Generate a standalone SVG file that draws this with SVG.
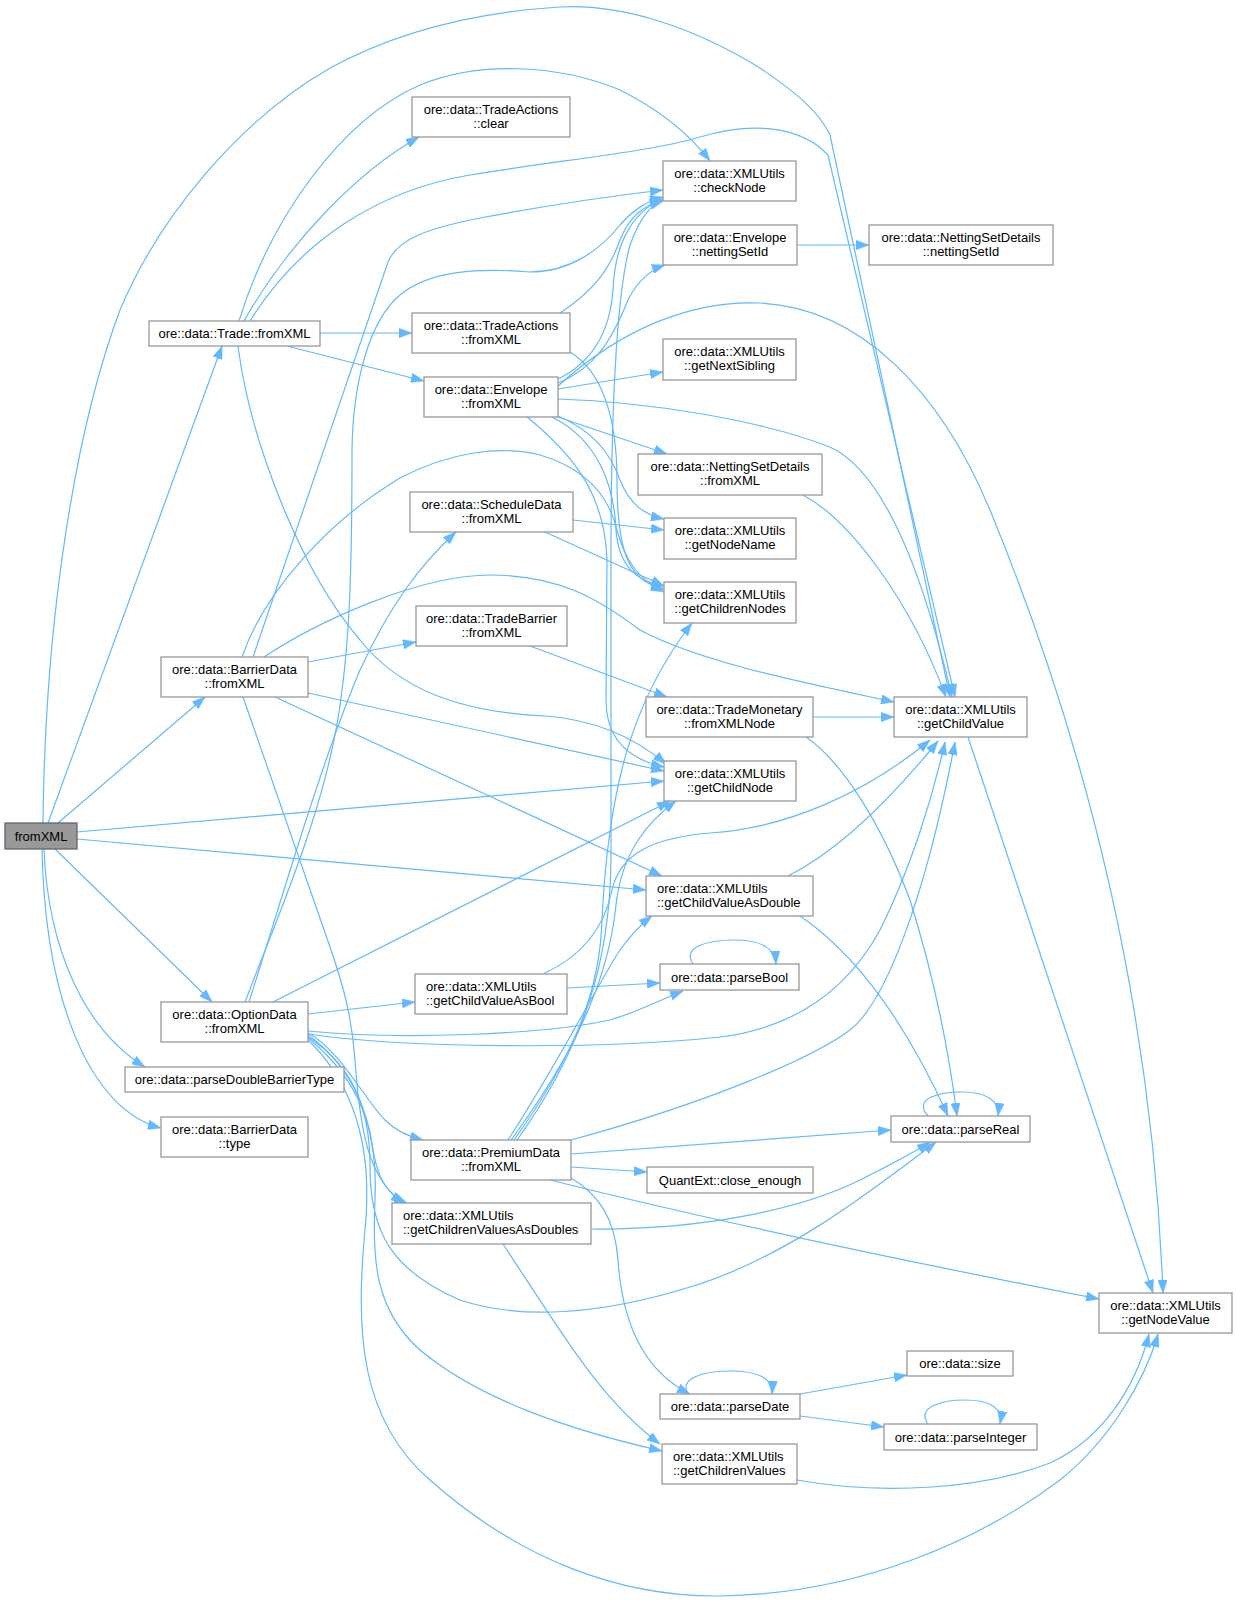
<svg xmlns="http://www.w3.org/2000/svg" width="1237" height="1607" viewBox="0 0 1237 1607">
<defs>
<style>
.n rect{fill:#ffffff;stroke:#999999;stroke-width:1.3}
.root rect{fill:#999999;stroke:#666666;stroke-width:1.3}
text{font-family:"Liberation Sans",Arial,Helvetica,sans-serif;font-size:13px;fill:#000000}
.c{text-anchor:middle}
#edges path{fill:none;stroke:#63b8ff;stroke-width:1.2;marker-end:url(#ah)}
</style>
<marker id="ah" viewBox="0 0 13 9.5" refX="13" refY="4.75" markerWidth="13" markerHeight="9.5" markerUnits="userSpaceOnUse" orient="auto">
<path d="M0,0 L13,4.75 L0,9.5 Z" fill="#63b8ff" stroke="#63b8ff" stroke-width="0.5"/>
</marker>
</defs>
<rect width="1237" height="1607" fill="#ffffff"/>
<g id="edges">
<!-- fromXML -->
<path d="M48,823 L222,346"/>
<path d="M58,823 L205,697"/>
<path d="M55,849 L212,1002"/>
<path d="M44,849 C48,950 85,1030 145,1067"/>
<path d="M42,849 C45,1000 90,1110 161,1128"/>
<path d="M77,832 L664,781"/>
<path d="M77,839 L646,890"/>
<path d="M43,823 C45,620 75,430 120,310 C160,215 240,120 330,68 C400,30 480,12 560,7 C620,4 690,25 760,68 C795,92 818,110 830,135 L950,697"/>
<!-- Trade::fromXML -->
<path d="M239,321 C270,220 340,120 420,85 C480,60 560,65 620,90 C660,110 690,135 710,161"/>
<path d="M244,321 C290,240 360,170 419,137"/>
<path d="M250,321 C300,240 380,190 470,175 C560,160 650,152 700,137 C750,122 800,125 828,155 L955,697"/>
<path d="M320,333 L412,333"/>
<path d="M287,346 L424,381"/>
<path d="M238,346 C250,440 300,570 360,640 C400,690 460,712 545,716 C600,720 640,742 666,764"/>
<!-- TradeActions::fromXML -->
<path d="M560,313 C595,290 610,268 620,240 C630,215 645,205 663,200"/>
<path d="M570,352 C600,370 617,413 617,480 C617,555 630,582 664,589"/>
<!-- Envelope::fromXML -->
<path d="M558,379 C593,362 610,330 613,290 C615,240 635,210 663,199"/>
<path d="M558,383 C595,368 612,340 628,300 C638,280 650,270 665,265"/>
<path d="M558,386 C620,330 690,300 760,303 C860,308 940,390 990,510 C1060,680 1150,950 1163,1293"/>
<path d="M558,389 L663,372"/>
<path d="M558,399 C650,402 760,420 830,447 C880,470 920,560 952,697"/>
<path d="M558,417 L667,454"/>
<path d="M556,415 C592,430 610,452 620,480 C630,505 645,515 664,519"/>
<path d="M552,417 C598,440 614,485 616,530 C619,567 637,582 664,586"/>
<path d="M527,417 C580,460 605,500 607,560 L606,700 C606,742 632,760 664,767"/>
<!-- Envelope::nettingSetId -->
<path d="M797,245 L869,245"/>
<!-- NettingSetDetails::fromXML -->
<path d="M803,495 C850,520 910,600 946,697"/>
<!-- ScheduleData -->
<path d="M573,520 L664,530"/>
<path d="M545,532 L664,586"/>
<!-- BarrierData -->
<path d="M253,657 L388,262 C398,238 430,228 480,218 C560,203 620,195 663,190"/>
<path d="M242,657 C265,590 330,520 400,478 C450,452 500,445 540,455 C590,470 610,500 617,530 C625,560 637,578 664,592"/>
<path d="M264,657 C320,620 420,575 490,575 C560,575 600,600 640,630 C700,662 800,682 894,702"/>
<path d="M308,662 L416,642"/>
<path d="M308,693 L664,771"/>
<path d="M275,697 L662,876"/>
<path d="M243,697 L330,947 C345,990 352,1020 355,1060 C360,1130 368,1180 404,1203"/>
<!-- TradeBarrier -->
<path d="M530,646 L667,697"/>
<!-- TradeMonetary -->
<path d="M813,717 L894,717"/>
<path d="M806,737 C840,760 880,820 910,900 C935,980 950,1060 957,1116"/>
<!-- OptionData -->
<path d="M245,1002 C278,915 330,800 342,690 C350,630 352,560 352,450 C353,380 370,320 400,295 C430,270 480,268 530,272 C570,272 600,250 620,225 C635,208 648,201 663,197"/>
<path d="M249,1002 C280,905 320,765 360,670 C390,605 420,565 456,532"/>
<path d="M273,1002 L670,801"/>
<path d="M308,1014 L415,1002"/>
<path d="M308,1031 C400,1040 540,1035 610,1020 C640,1011 660,1000 683,991"/>
<path d="M308,1034 C400,1048 600,1050 720,1037 C800,1027 850,985 880,930 C910,870 932,800 945,742"/>
<path d="M308,1033 C340,1050 365,1100 385,1120 C395,1130 405,1135 423,1140"/>
<path d="M308,1035 C350,1065 368,1110 373,1150 C378,1180 388,1195 407,1203"/>
<path d="M308,1037 C360,1070 370,1120 370,1167 C370,1230 390,1270 460,1300 C520,1320 600,1315 690,1287 C780,1260 860,1200 936,1142"/>
<path d="M308,1038 C360,1080 378,1130 375,1200 C372,1260 375,1310 420,1350 C480,1400 570,1430 662,1451"/>
<path d="M308,1040 C360,1090 372,1160 365,1230 C355,1330 360,1420 430,1480 C520,1560 620,1597 720,1596 C860,1594 980,1540 1060,1480 C1110,1440 1145,1380 1158,1334"/>
<!-- getChildValueAsBool -->
<path d="M567,988 L660,983"/>
<path d="M543,974 C585,955 605,925 612,890 C620,855 650,838 710,833 C790,828 870,790 930,740"/>
<!-- getChildValueAsDouble -->
<path d="M788,876 C840,850 890,800 938,741"/>
<path d="M800,916 C850,950 900,1010 948,1116"/>
<!-- PremiumData -->
<path d="M508,1140 C560,1060 600,980 620,950 C630,936 640,925 652,916"/>
<path d="M511,1140 C570,1060 608,985 616,905 C622,850 650,820 676,801"/>
<path d="M514,1140 C575,1055 600,990 602,920 C608,790 632,700 692,623"/>
<path d="M517,1140 C585,1045 610,960 611,860 L611,560 C611,420 615,300 630,245 C640,218 650,205 663,201"/>
<path d="M571,1140 C700,1105 810,1060 850,1030 C885,1003 925,900 955,742"/>
<path d="M571,1154 L891,1130"/>
<path d="M571,1167 L647,1172"/>
<path d="M550,1180 C750,1230 950,1270 1099,1299"/>
<path d="M571,1178 C600,1195 615,1220 618,1260 C622,1320 642,1370 690,1394"/>
<!-- getChildrenValuesAsDoubles -->
<path d="M503,1244 C560,1330 600,1400 660,1444"/>
<path d="M591,1229 C700,1230 800,1210 860,1180 C890,1165 910,1155 930,1142"/>
<!-- getChildValue -->
<path d="M968,737 L1153,1293"/>
<!-- getChildrenValues -->
<path d="M797,1480 C880,1495 980,1490 1050,1463 C1100,1440 1135,1390 1149,1334"/>
<!-- parseDate -->
<path d="M800,1394 L907,1375"/>
<path d="M800,1416 L884,1427"/>
<!-- self loops -->
<path d="M693,964 C682,948 705,940 735,940 C760,940 775,948 776,964"/>
<path d="M928,1116 C912,1098 940,1092 962,1092 C985,1092 1000,1100 998,1116"/>
<path d="M688,1394 C678,1378 705,1371 730,1371 C758,1371 773,1378 772,1394"/>
<path d="M928,1424 C915,1406 945,1400 965,1400 C990,1400 1003,1408 1000,1424"/>
</g>
<g id="n_root" class="root"><rect x="5" y="823" width="72" height="26"/><text class="c" x="41" y="840.5">fromXML</text></g>
<g id="n_trade" class="n"><rect x="149" y="321" width="171" height="25"/><text class="c" x="234.5" y="338">ore::data::Trade::fromXML</text></g>
<g id="n_barrierdata" class="n"><rect x="161" y="657" width="147" height="40"/><text class="c" x="234.5" y="674">ore::data::BarrierData</text><text class="c" x="234.5" y="688">::fromXML</text></g>
<g id="n_optiondata" class="n"><rect x="161" y="1002" width="147" height="40"/><text class="c" x="234.5" y="1019">ore::data::OptionData</text><text class="c" x="234.5" y="1033">::fromXML</text></g>
<g id="n_pdbt" class="n"><rect x="125" y="1067" width="219" height="25"/><text class="c" x="234.5" y="1084">ore::data::parseDoubleBarrierType</text></g>
<g id="n_bdtype" class="n"><rect x="161" y="1117" width="147" height="40"/><text class="c" x="234.5" y="1134">ore::data::BarrierData</text><text class="c" x="234.5" y="1148">::type</text></g>
<g id="n_taclear" class="n"><rect x="412" y="97" width="158" height="40"/><text class="c" x="491" y="114">ore::data::TradeActions</text><text class="c" x="491" y="128">::clear</text></g>
<g id="n_tafromxml" class="n"><rect x="412" y="313" width="158" height="40"/><text class="c" x="491" y="330">ore::data::TradeActions</text><text class="c" x="491" y="344">::fromXML</text></g>
<g id="n_envfromxml" class="n"><rect x="424" y="377" width="134" height="40"/><text class="c" x="491" y="394">ore::data::Envelope</text><text class="c" x="491" y="408">::fromXML</text></g>
<g id="n_schedule" class="n"><rect x="410" y="492" width="163" height="40"/><text class="c" x="491.5" y="509">ore::data::ScheduleData</text><text class="c" x="491.5" y="523">::fromXML</text></g>
<g id="n_tradebarrier" class="n"><rect x="416" y="606" width="151" height="40"/><text class="c" x="491.5" y="623">ore::data::TradeBarrier</text><text class="c" x="491.5" y="637">::fromXML</text></g>
<g id="n_gcvab" class="n"><rect x="415" y="974" width="152" height="40"/><text x="426" y="991">ore::data::XMLUtils</text><text x="426" y="1005">::getChildValueAsBool</text></g>
<g id="n_premium" class="n"><rect x="411" y="1140" width="160" height="40"/><text class="c" x="491" y="1157">ore::data::PremiumData</text><text class="c" x="491" y="1171">::fromXML</text></g>
<g id="n_gcvads" class="n"><rect x="392" y="1203" width="199" height="41"/><text x="403" y="1220">ore::data::XMLUtils</text><text x="403" y="1234">::getChildrenValuesAsDoubles</text></g>
<g id="n_checknode" class="n"><rect x="663" y="161" width="133" height="40"/><text class="c" x="729.5" y="178">ore::data::XMLUtils</text><text class="c" x="729.5" y="192">::checkNode</text></g>
<g id="n_envnsid" class="n"><rect x="663" y="225" width="134" height="40"/><text class="c" x="730" y="242">ore::data::Envelope</text><text class="c" x="730" y="256">::nettingSetId</text></g>
<g id="n_nextsib" class="n"><rect x="663" y="339" width="133" height="41"/><text class="c" x="729.5" y="356">ore::data::XMLUtils</text><text class="c" x="729.5" y="370">::getNextSibling</text></g>
<g id="n_nsdfromxml" class="n"><rect x="638" y="454" width="184" height="41"/><text class="c" x="730" y="471">ore::data::NettingSetDetails</text><text class="c" x="730" y="485">::fromXML</text></g>
<g id="n_nodename" class="n"><rect x="664" y="518" width="132" height="41"/><text class="c" x="730" y="535">ore::data::XMLUtils</text><text class="c" x="730" y="549">::getNodeName</text></g>
<g id="n_childrennodes" class="n"><rect x="664" y="582" width="132" height="41"/><text class="c" x="730" y="599">ore::data::XMLUtils</text><text class="c" x="730" y="613">::getChildrenNodes</text></g>
<g id="n_trademonetary" class="n"><rect x="646" y="697" width="167" height="40"/><text class="c" x="729.5" y="714">ore::data::TradeMonetary</text><text class="c" x="729.5" y="728">::fromXMLNode</text></g>
<g id="n_childnode" class="n"><rect x="664" y="761" width="132" height="40"/><text class="c" x="730" y="778">ore::data::XMLUtils</text><text class="c" x="730" y="792">::getChildNode</text></g>
<g id="n_gcvad" class="n"><rect x="646" y="876" width="167" height="40"/><text x="657" y="893">ore::data::XMLUtils</text><text x="657" y="907">::getChildValueAsDouble</text></g>
<g id="n_parsebool" class="n"><rect x="660" y="964" width="139" height="26"/><text class="c" x="729.5" y="981.5">ore::data::parseBool</text></g>
<g id="n_closeenough" class="n"><rect x="647" y="1167" width="166" height="26"/><text class="c" x="730" y="1184.5">QuantExt::close_enough</text></g>
<g id="n_parsedate" class="n"><rect x="660" y="1394" width="140" height="25"/><text class="c" x="730" y="1411">ore::data::parseDate</text></g>
<g id="n_childrenvalues" class="n"><rect x="662" y="1444" width="135" height="40"/><text x="673" y="1461">ore::data::XMLUtils</text><text x="673" y="1475">::getChildrenValues</text></g>
<g id="n_nsdnsid" class="n"><rect x="869" y="225" width="184" height="40"/><text class="c" x="961" y="242">ore::data::NettingSetDetails</text><text class="c" x="961" y="256">::nettingSetId</text></g>
<g id="n_childvalue" class="n"><rect x="894" y="697" width="133" height="40"/><text class="c" x="960.5" y="714">ore::data::XMLUtils</text><text class="c" x="960.5" y="728">::getChildValue</text></g>
<g id="n_parsereal" class="n"><rect x="891" y="1116" width="139" height="26"/><text class="c" x="960.5" y="1133.5">ore::data::parseReal</text></g>
<g id="n_nodevalue" class="n"><rect x="1099" y="1293" width="133" height="40"/><text class="c" x="1165.5" y="1310">ore::data::XMLUtils</text><text class="c" x="1165.5" y="1324">::getNodeValue</text></g>
<g id="n_size" class="n"><rect x="907" y="1351" width="106" height="25"/><text class="c" x="960" y="1368">ore::data::size</text></g>
<g id="n_parseinteger" class="n"><rect x="884" y="1424" width="153" height="26"/><text class="c" x="960.5" y="1441.5">ore::data::parseInteger</text></g>
</svg>
